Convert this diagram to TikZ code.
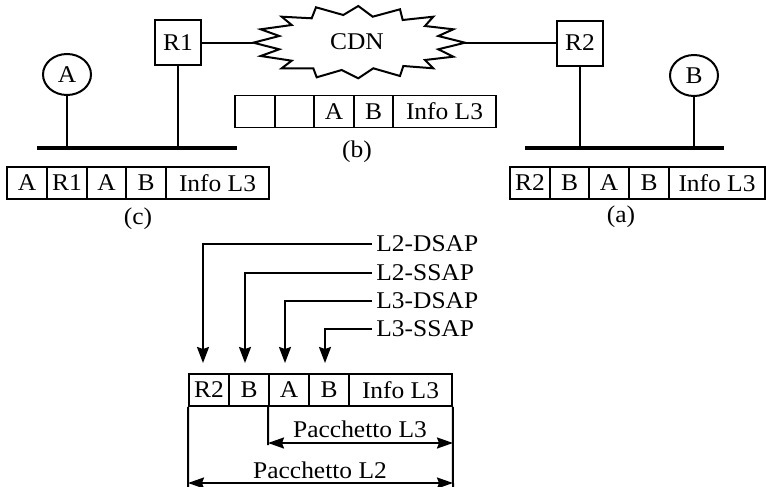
\documentclass[tikz,border=0pt]{standalone}
\usepackage{fontspec}
\setmainfont[FakeStretch=1.06]{Liberation Serif}
\usetikzlibrary{shapes.geometric,arrows.meta}
\begin{document}
\begin{tikzpicture}[x=0.5pt,y=-0.5pt,
  every node/.style={font=\fontsize{12}{14}\selectfont},
  thin line/.style={line width=1pt},
  bus/.style={line width=1.7pt},
  cell/.style={draw,line width=0.9pt,inner sep=0pt,minimum height=16pt},
  router/.style={draw,line width=1pt,inner sep=0pt,minimum width=23pt,minimum height=22.5pt},
  host/.style={draw,ellipse,line width=1pt,inner sep=0pt,minimum width=24pt,minimum height=20.5pt},
  lbl/.style={inner sep=2pt,anchor=west},
  arr/.style={line width=1pt,-{Stealth[length=8pt,width=6pt,inset=1pt]}},
  darr/.style={line width=1pt,{Stealth[length=8pt,width=5.5pt,inset=1pt]}-{Stealth[length=8pt,width=5.5pt,inset=1pt]}}
]
\useasboundingbox (0,0) rectangle (766,487);

% hosts and routers
\node[host] (A) at (67,74.5) {A};
\node[host] (B) at (694,75.5) {B};
\node[router] (R1) at (178,42.5) {R1};
\node[router] (R2) at (580,43) {R2};

% buses
\coordinate (bl1) at (37,148);
\coordinate (bl2) at (237,148);
\coordinate (br1) at (525,148);
\coordinate (br2) at (724,148);
\draw[bus] (bl1) -- (bl2);
\draw[bus] (br1) -- (br2);
\draw[thin line] (A.south) -- (A |- bl1);
\draw[thin line] (R1.south) -- (R1 |- bl1);
\draw[thin line] (R2.south) -- (R2 |- br1);
\draw[thin line] (B.south) -- (B |- br1);

% CDN cloud
\coordinate (cl) at (253.3,42.7);
\coordinate (cr) at (465,42.7);
\draw[line width=1pt,fill=white] (cl) -- (279.3,36) -- (260.7,29.3) -- (291.7,25) -- (281.7,16.7)
  -- (311.7,18.3) -- (316,7.3) -- (343.3,15) -- (358.3,6) -- (372.7,16.7) -- (400,9.3)
  -- (402.7,20) -- (433.3,16.7) -- (425,26) -- (453.3,29.3) -- (438.3,36) -- (cr)
  -- (438.3,49.3) -- (453.3,56.7) -- (425,60) -- (433.3,68.3) -- (403.3,66) -- (400,76)
  -- (373.3,68.3) -- (358.3,78.3) -- (341.7,70) -- (316.7,77.3) -- (313.3,68.3)
  -- (281.7,68.3) -- (291.7,60.7) -- (260.7,56) -- (279.3,49.3) -- cycle;
\node (cdn) at (357,42) {CDN};
\draw[thin line] (R1.east) -- (R1.east -| cl);
\draw[thin line] (cr) -- (cr -| R2.west);

% packet (b)
\node[cell,minimum width=20pt] (b1) at (255,111.5) {};
\node[cell,minimum width=19.5pt] (b2) at (294.5,111.5) {};
\node[cell,minimum width=20pt] (b3) at (334,111.5) {A};
\node[cell,minimum width=19.5pt] (b4) at (373.5,111.5) {B};
\node[cell,minimum width=51.5pt] (b5) at (444.5,111.5) {Info L3};
\node (lb) at (357,152) {(b)};

% packet (c)
\node[cell,minimum width=20pt] (c1) at (27,183) {A};
\node[cell,minimum width=20pt] (c2) at (67,183) {R1};
\node[cell,minimum width=19.5pt] (c3) at (106.5,183) {A};
\node[cell,minimum width=20pt] (c4) at (146,183) {B};
\node[cell,minimum width=51.5pt] (c5) at (217.5,183) {Info L3};
\node (lc) at (138,219) {(c)};

% packet (a)
\node[cell,minimum width=20pt] (a1) at (530,183) {R2};
\node[cell,minimum width=19.5pt] (a2) at (569.5,183) {B};
\node[cell,minimum width=20pt] (a3) at (609,183) {A};
\node[cell,minimum width=20pt] (a4) at (649,183) {B};
\node[cell,minimum width=48pt] (a5) at (717,183) {Info L3};
\node (la) at (621,217) {(a)};

% bottom packet
\node[cell,minimum width=20pt] (p1) at (209,390) {R2};
\node[cell,minimum width=20pt] (p2) at (249,390) {B};
\node[cell,minimum width=20pt] (p3) at (289,390) {A};
\node[cell,minimum width=20pt] (p4) at (329,390) {B};
\node[cell,minimum width=51.5pt] (p5) at (400.5,390) {Info L3};

% field labels
\node[lbl] (l2d) at (372,244) {L2-DSAP};
\node[lbl] (l2s) at (372,273) {L2-SSAP};
\node[lbl] (l3d) at (372,301) {L3-DSAP};
\node[lbl] (l3s) at (372,329) {L3-SSAP};
\coordinate (t1) at (203,363);
\coordinate (t2) at (245,363);
\coordinate (t3) at (285,363);
\coordinate (t4) at (325,363);
\draw[arr] (l2d.west) -| (t1);
\draw[arr] (l2s.west) -| (t2);
\draw[arr] (l3d.west) -| (t3);
\draw[arr] (l3s.west) -| (t4);

% packet lengths
\coordinate (e1) at (268,445);
\coordinate (e2) at (453,487);
\coordinate (e3) at (188,487);
\draw[thin line] (p3.south west) -- (e1);
\draw[thin line] (p5.south east) -- (e2);
\draw[thin line] (p1.south west) -- (e3);
\coordinate (d1) at (268,443);
\coordinate (d2) at (453,443);
\coordinate (d3) at (188,483);
\coordinate (d4) at (453,483);
\draw[darr] (d1) -- (d2);
\draw[darr] (d3) -- (d4);
\node (pl3) at (360,429) {Pacchetto L3};
\node (pl2) at (320,470) {Pacchetto L2};
\end{tikzpicture}
\end{document}
